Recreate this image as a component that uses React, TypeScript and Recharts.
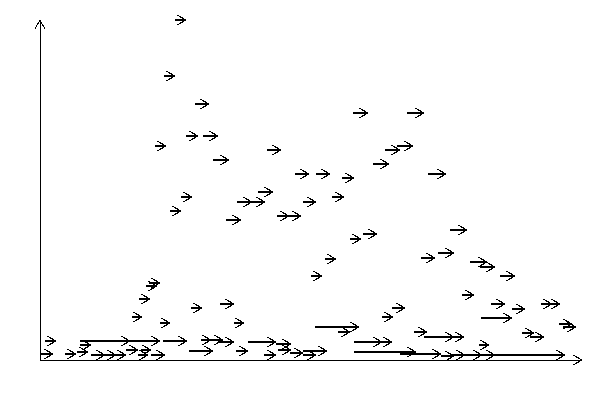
import React from 'react';
import { ComposedChart, XAxis, YAxis, ReferenceLine } from 'recharts';

// interval start, interval end, and vertical level of each arrow
const taskStart = [
  135, 124, 155, 313, 367, 146, 163, 115, 357, 345, 227, 173, 333, 255, 276, 388, 302, 218, 141, 292,
  197, 212, 263, 130, 237, 249, 186, 410, 323, 310, 398, 285, 381, 430, 440, 460, 271, 109, 106, 422,
  99, 451, 501, 509, 180, 151, 472, 352, 441, 342, 92, 120, 194, 519, 523, 275, 298, 374, 482, 490,
  5, 40, 50, 123, 40, 161, 171, 178, 208, 236, 149, 196, 224, 238, 250, 263, 263, 0, 25, 37,
  51, 56, 66, 86, 98, 101, 111, 314, 330, 384, 412, 314, 360, 401, 412, 412, 420, 412, 439,
];
const taskEnd = [
  146, 135, 169, 328, 384, 158, 178, 126, 373, 360, 241, 189, 349, 269, 290, 406, 314, 233, 152, 304,
  212, 225, 276, 141, 249, 261, 201, 427, 337, 321, 414, 296, 395, 447, 455, 475, 282, 120, 117, 434,
  110, 465, 512, 520, 194, 162, 485, 365, 472, 353, 102, 130, 204, 532, 536, 319, 310, 387, 494, 504,
  16, 90, 120, 147, 51, 171, 183, 194, 236, 251, 173, 208, 236, 251, 263, 276, 287, 13, 36, 48,
  65, 76, 86, 98, 108, 111, 125, 352, 342, 414, 424, 376, 401, 414, 425, 442, 455, 525, 449,
];
const taskLevel = [
  340, 284, 256, 247, 247, 224, 224, 214, 214, 210, 210, 200, 196, 186, 186, 186, 182, 168, 163, 163,
  158, 158, 158, 149, 144, 144, 140, 130, 126, 121, 107, 101, 102, 98, 93, 84, 84, 77, 74, 65,
  61, 56, 56, 56, 56, 52, 51, 52, 42, 43, 43, 37, 37, 36, 33, 33, 28, 28, 27, 23,
  19, 19, 19, 19, 15, 20, 20, 18, 18, 16, 9, 9, 5, 10, 7, 5, 9, 6, 6, 8,
  5, 5, 5, 10, 5, 10, 5, 18, 18, 23, 23, 8, 6, 4, 5, 5, 5, 5, 15,
];

const xDomain: [number, number] = [0, 542];
const yDomain: [number, number] = [0, 340];

const arrows = taskStart.map((s, i) => ({ start: s, end: taskEnd[i], level: taskLevel[i] }));

const makeArrow = (shaftWidth: number) => (props: any) => {
  const { x1, y1, x2, y2 } = props;
  const dx = x2 - x1;
  const dy = y2 - y1;
  const len = Math.sqrt(dx * dx + dy * dy) || 1;
  const ux = dx / len;
  const uy = dy / len;
  const back = 9;
  const half = 5;
  const bx = x2 - ux * back;
  const by = y2 - uy * back;
  const p1 = `${bx - uy * half},${by + ux * half}`;
  const p2 = `${bx + uy * half},${by - ux * half}`;
  return (
    <g shapeRendering="crispEdges">
      <line x1={x1} y1={y1} x2={x2} y2={y2} stroke="#000" strokeWidth={shaftWidth} />
      <polyline points={`${p1} ${x2},${y2} ${p2}`} fill="none" stroke="#000" strokeWidth={1} />
    </g>
  );
};

const taskArrow = makeArrow(2);
const axisArrow = makeArrow(1);

export default function App() {
  return (
    <div style={{ position: 'absolute', left: 0, top: 0, background: '#fff' }}>
      <ComposedChart
        width={600}
        height={400}
        data={[]}
        margin={{ top: 20, right: 18, bottom: 40, left: 40 }}
      >
        <XAxis type="number" dataKey="x" domain={xDomain} hide allowDataOverflow />
        <YAxis type="number" dataKey="y" domain={yDomain} hide allowDataOverflow />
        <ReferenceLine
          segment={[{ x: xDomain[0], y: yDomain[0] }, { x: xDomain[0], y: yDomain[1] }]}
          ifOverflow="visible"
          shape={axisArrow}
        />
        <ReferenceLine
          segment={[{ x: xDomain[0], y: yDomain[0] }, { x: xDomain[1], y: yDomain[0] }]}
          ifOverflow="visible"
          shape={axisArrow}
        />
        {arrows.map((a, i) => (
          <ReferenceLine
            key={i}
            segment={[{ x: a.start, y: a.level }, { x: a.end, y: a.level }]}
            ifOverflow="visible"
            shape={taskArrow}
          />
        ))}
      </ComposedChart>
    </div>
  );
}
